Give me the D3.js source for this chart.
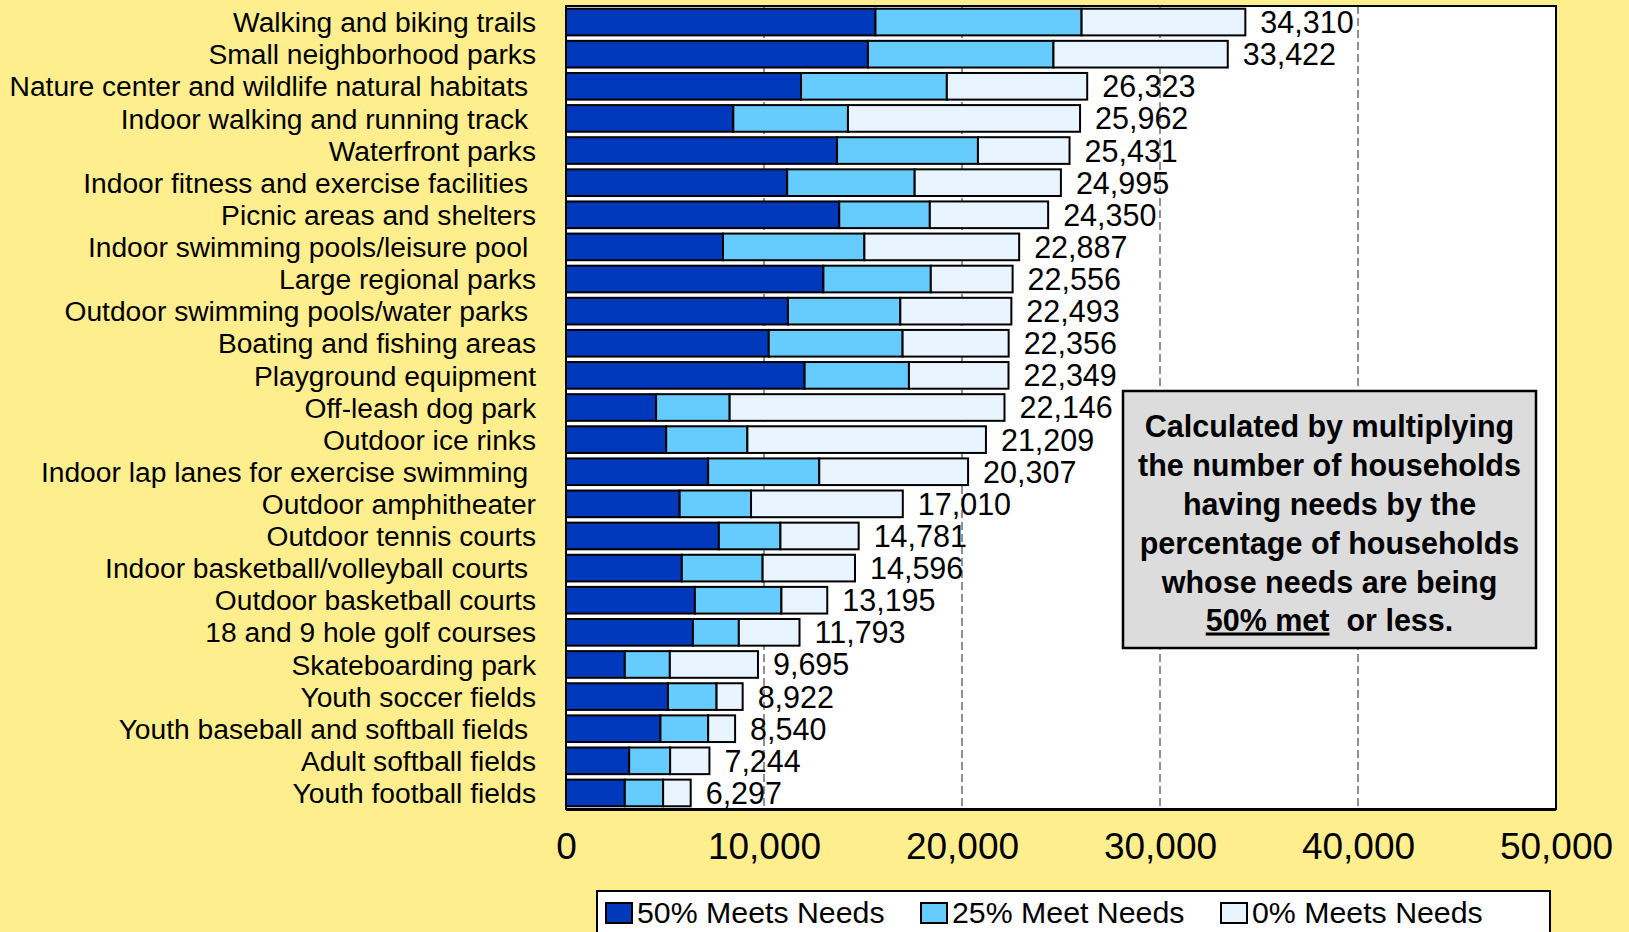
<!DOCTYPE html>
<html>
<head>
<meta charset="utf-8">
<script src="https://cdn.jsdelivr.net/npm/d3@7"></script>
<style>
  html, body { margin: 0; padding: 0; background: #FFEE8E; }
  svg { display: block; font-family: Arial, "Liberation Sans", sans-serif; }
</style>
</head>
<body>
<svg id="chart" width="1629" height="932"></svg>
<script>
const categories = [
  "Walking and biking trails",
  "Small neighborhood parks",
  "Nature center and wildlife natural habitats ",
  "Indoor walking and running track ",
  "Waterfront parks",
  "Indoor fitness and exercise facilities ",
  "Picnic areas and shelters",
  "Indoor swimming pools/leisure pool ",
  "Large regional parks",
  "Outdoor swimming pools/water parks ",
  "Boating and fishing areas",
  "Playground equipment",
  "Off-leash dog park",
  "Outdoor ice rinks",
  "Indoor lap lanes for exercise swimming ",
  "Outdoor amphitheater",
  "Outdoor tennis courts",
  "Indoor basketball/volleyball courts ",
  "Outdoor basketball courts",
  "18 and 9 hole golf courses",
  "Skateboarding park",
  "Youth soccer fields",
  "Youth baseball and softball fields ",
  "Adult softball fields",
  "Youth football fields"
];
const meet50 = [15630, 15250, 11870, 8450, 13690, 11170, 13800, 7930, 13000, 11210, 10240, 12050, 4550, 5060, 7180, 5740, 7720, 5850, 6510, 6410, 2970, 5150, 4770, 3190, 2970];
const meet25 = [10410, 9370, 7365, 5790, 7115, 6440, 4575, 7140, 5425, 5675, 6760, 5270, 3715, 4100, 5610, 3605, 3110, 4080, 4370, 2320, 2275, 2455, 2410, 2070, 1935];
const meet0  = [8270, 8802, 7088, 11722, 4626, 7385, 5975, 7817, 4131, 5608, 5356, 5029, 13881, 12049, 7517, 7665, 3951, 4666, 2315, 3063, 4450, 1317, 1360, 1984, 1392];
const totals = [34310, 33422, 26323, 25962, 25431, 24995, 24350, 22887, 22556, 22493, 22356, 22349, 22146, 21209, 20307, 17010, 14781, 14596, 13195, 11793, 9695, 8922, 8540, 7244, 6297];
const seriesNames = ["50% Meets Needs", "25% Meet Needs", "0% Meets Needs"];
const seriesColors = ["#0038BB", "#66CCFF", "#E8F4FF"];
const xTicks = [0, 10000, 20000, 30000, 40000, 50000];
const gridTicks = [10000, 20000, 30000, 40000];
const noteLines = [
  "Calculated by multiplying",
  "the number of households",
  "having needs by the",
  "percentage of households",
  "whose needs are being"
];

const svg = d3.select("#chart");
const W = 1629, H = 932;
const plot = { left: 566, right: 1556, top: 6, bottom: 809 };

svg.append("rect").attr("width", W).attr("height", H).attr("fill", "#FFEE8E");

const x = d3.scaleLinear().domain([0, 50000]).range([plot.left, plot.right]);
const y = d3.scaleBand().domain(categories).range([plot.top, plot.bottom])
  .paddingInner(0.17).paddingOuter(0.085);

// plot background
svg.append("rect")
  .attr("x", plot.left).attr("y", plot.top)
  .attr("width", plot.right - plot.left).attr("height", plot.bottom - plot.top)
  .attr("fill", "#FFFFFF");

// gridlines
svg.append("g").selectAll("line").data(gridTicks).join("line")
  .attr("x1", d => x(d)).attr("x2", d => x(d))
  .attr("y1", plot.top).attr("y2", plot.bottom)
  .attr("stroke", "#222").attr("stroke-width", 1)
  .attr("stroke-dasharray", "8,4");

// stacked data
const rows = categories.map((c, i) => ({ cat: c, s0: meet50[i], s1: meet25[i], s2: meet0[i], total: totals[i] }));
const stack = d3.stack().keys(["s0", "s1", "s2"]);
const stacked = stack(rows);

svg.append("g").selectAll("g").data(stacked).join("g")
  .attr("fill", (d, i) => seriesColors[i])
  .selectAll("rect").data(d => d).join("rect")
  .attr("x", d => x(d[0]))
  .attr("y", d => y(d.data.cat))
  .attr("width", d => x(d[1]) - x(d[0]))
  .attr("height", y.bandwidth())
  .attr("stroke", "#000").attr("stroke-width", 2);

// value labels
svg.append("g").selectAll("text").data(rows).join("text")
  .attr("x", d => x(d.s0 + d.s1 + d.s2) + 15)
  .attr("y", d => y(d.cat) + y.bandwidth() / 2)
  .attr("dy", "0.36em")
  .attr("font-size", 30.5)
  .attr("fill", "#000")
  .text(d => d3.format(",")(d.total));

// category axis
const yAxis = svg.append("g").attr("transform", `translate(${plot.left},0)`)
  .call(d3.axisLeft(y).tickSize(0).tickPadding(30));
yAxis.select(".domain").remove();
yAxis.selectAll("text")
  .attr("font-size", 28.2)
  .attr("font-family", "Arial, 'Liberation Sans', sans-serif")
  .attr("fill", "#000")
  .attr("dy", "0.36em")
  .style("white-space", "pre");

// x axis
const xAxis = svg.append("g").attr("transform", `translate(0,${plot.bottom})`)
  .call(d3.axisBottom(x).tickValues(xTicks).tickSize(0).tickPadding(0).tickFormat(d3.format(",")));
xAxis.select(".domain").remove();
xAxis.selectAll("text")
  .attr("font-size", 37)
  .attr("font-family", "Arial, 'Liberation Sans', sans-serif")
  .attr("fill", "#000")
  .attr("y", 50).attr("dy", 0);

// plot frame
svg.append("rect")
  .attr("x", plot.left).attr("y", plot.top)
  .attr("width", plot.right - plot.left).attr("height", plot.bottom - plot.top)
  .attr("fill", "none").attr("stroke", "#000").attr("stroke-width", 2);
svg.append("line")
  .attr("x1", plot.left).attr("x2", plot.right)
  .attr("y1", plot.bottom + 1).attr("y2", plot.bottom + 1)
  .attr("stroke", "#000").attr("stroke-width", 2);

// note box
const note = svg.append("g");
note.append("rect")
  .attr("x", 1123).attr("y", 391).attr("width", 413).attr("height", 257)
  .attr("fill", "#DCDCDC").attr("stroke", "#000").attr("stroke-width", 2.5);
const noteText = note.append("text")
  .attr("text-anchor", "middle")
  .attr("font-size", 30.5).attr("font-weight", "bold").attr("fill", "#000");
const lineGap = 38.9;
noteLines.forEach((t, i) => {
  noteText.append("tspan").attr("x", 1329.5).attr("y", 437 + i * lineGap).text(t);
});
const last = note.append("text")
  .attr("text-anchor", "middle")
  .attr("x", 1329.5).attr("y", 437 + 5 * lineGap - 1)
  .attr("font-size", 30.5).attr("font-weight", "bold").attr("fill", "#000")
  .style("white-space", "pre");
last.append("tspan").attr("text-decoration", "underline").text("50% met");
last.append("tspan").text("  or less.");

// legend
const legend = svg.append("g");
legend.append("rect")
  .attr("x", 597).attr("y", 891).attr("width", 953).attr("height", 60)
  .attr("fill", "#FFFFFF").attr("stroke", "#000").attr("stroke-width", 2);
const legX = [606, 921, 1221];
const items = legend.selectAll("g.item").data(seriesNames).join("g").attr("class", "item");
items.append("rect")
  .attr("x", (d, i) => legX[i]).attr("y", 903)
  .attr("width", 26).attr("height", 20)
  .attr("fill", (d, i) => seriesColors[i])
  .attr("stroke", "#000").attr("stroke-width", 2);
items.append("text")
  .attr("x", (d, i) => legX[i] + 31).attr("y", 923)
  .attr("font-size", 30.3).attr("fill", "#000")
  .text(d => d);
</script>
</body>
</html>
